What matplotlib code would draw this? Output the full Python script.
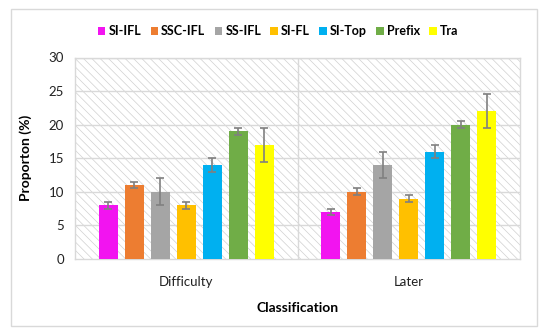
import matplotlib
matplotlib.use("Agg")
import matplotlib.pyplot as plt
import numpy as np
from matplotlib.patches import Rectangle, Patch

categories = ["Difficulty", "Later"]
series = ["SI-IFL", "SSC-IFL", "SS-IFL", "SI-FL", "SI-Top", "Prefix", "Tra"]
values = {
    "SI-IFL": [8, 7],
    "SSC-IFL": [11, 10],
    "SS-IFL": [10, 14],
    "SI-FL": [8, 9],
    "SI-Top": [14, 16],
    "Prefix": [19, 20],
    "Tra": [17, 22],
}
errors = {
    "SI-IFL": [0.5, 0.5],
    "SSC-IFL": [0.5, 0.5],
    "SS-IFL": [2, 2],
    "SI-FL": [0.5, 0.5],
    "SI-Top": [1, 1],
    "Prefix": [0.5, 0.5],
    "Tra": [2.5, 2.5],
}
colors = ["#F214F0", "#ED7D31", "#A5A5A5", "#FFC000", "#00B0F0", "#70AD47", "#FFFF00"]
yticks = [0, 5, 10, 15, 20, 25, 30]

plt.rcParams['font.family'] = ['Lato', 'DejaVu Sans']
plt.rcParams['hatch.linewidth'] = 0.5
plt.rcParams['hatch.color'] = '#D0D0D0'

fig = plt.figure(figsize=(5.5, 3.36), dpi=100)
fig.patches.append(Rectangle((11/550, 1-326/336), 526/550, 317/336, transform=fig.transFigure,
                             fill=False, edgecolor='#D9D9D9', linewidth=1.0))
ax = fig.add_axes([75/550, 1-259/336, 445/550, (259-57.5)/336])

# hatched background
ax.add_patch(Rectangle((0, 0), 1, 1, transform=ax.transAxes, facecolor='white',
                       edgecolor='#D0D0D0', hatch='\\\\\\\\', linewidth=0, zorder=0))

x = np.arange(len(categories))
step = 0.117
width = 0.085
for i, s in enumerate(series):
    pos = x + (i - 3) * step
    ax.bar(pos, values[s], width=width, color=colors[i], zorder=3, label=s)
    ax.errorbar(pos, values[s], yerr=errors[s], fmt='none', ecolor='#808080',
                elinewidth=1.2, capsize=3, capthick=1.2, zorder=4)

ax.set_xlim(-0.5, 1.5)
ax.set_ylim(0, 30)
ax.set_yticks(yticks)
ax.set_xticks(x)
ax.set_xticklabels(categories)
for yv in yticks[1:]:
    ax.axhline(yv, color='#D9D9D9', linewidth=1.0, zorder=1)
ax.axvline(0.5, color='#D9D9D9', linewidth=1.0, zorder=1)
for sp in ax.spines.values():
    sp.set_color('#D9D9D9')
    sp.set_linewidth(1.0)
ax.tick_params(axis='both', length=0, labelsize=9.5, colors='#222222')
ax.tick_params(axis='x', pad=12)
ax.tick_params(axis='y', pad=8)
ax.set_xlabel("Classification", fontsize=10, fontweight='bold', labelpad=10)
ax.set_ylabel("Proporton (%)", fontsize=10, fontweight='bold', labelpad=12)

handles = [Patch(facecolor=c, edgecolor='none') for c in colors]
fig.legend(handles, series, loc='center', bbox_to_anchor=(0.506, 1-31/336), ncol=7,
           frameon=False, prop={'weight': 'bold', 'size': 9}, handlelength=0.6,
           handleheight=0.6, handletextpad=0.25, columnspacing=0.75, borderpad=0)

fig.savefig("out.png", dpi=100)
